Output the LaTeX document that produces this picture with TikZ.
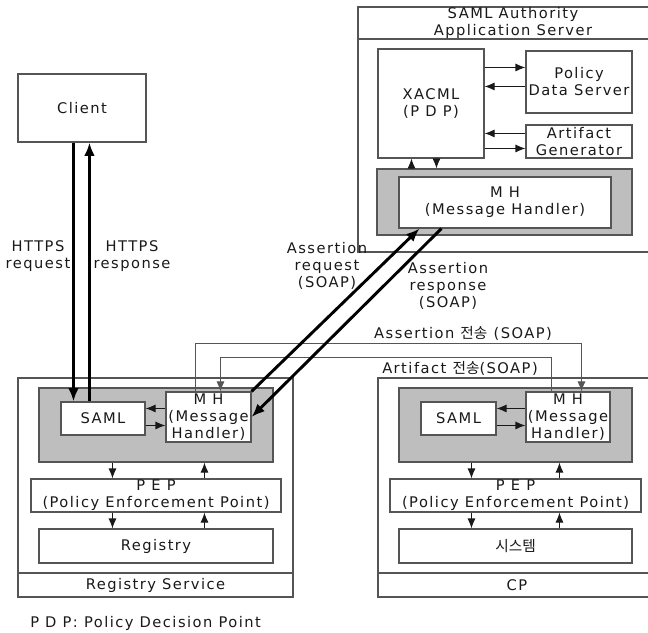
\documentclass[tikz,border=0pt]{standalone}
\usepackage{fontspec}
\setmainfont{DejaVu Sans}[LetterSpace=10]
\newfontfamily\kr{Noto Sans CJK KR}
\usetikzlibrary{fit,calc,arrows.meta}
\definecolor{edge}{RGB}{85,85,85}
\definecolor{shade}{RGB}{190,190,190}
\definecolor{ink}{RGB}{25,25,25}
\begin{document}
\begin{tikzpicture}[x=0.75pt,y=-0.75pt,
  every node/.style={font=\fontsize{11}{12.75}\selectfont, text=ink, inner sep=0pt, align=center},
  box/.style={draw=edge, line width=0.8pt, fill=white},
  graybox/.style={draw=edge, line width=0.8pt, fill=shade},
  frame/.style={draw=edge, line width=0.8pt},
  txt/.style={label={[align=center]center:{#1}}},
  smallarrow/.style={draw=ink, line width=0.8pt, -{Latex[length=7.5pt,width=6pt]}},
  bigarrow/.style={draw=black, line width=2.2pt, -{Latex[length=10pt,width=8pt]}},
  wire/.style={draw=edge, line width=0.7pt},
]
\useasboundingbox (0,0) rectangle (648,632);
\clip (0,0) rectangle (648,632);

% ---------- SAML Authority ----------
\node[frame, fit={(358,7)(668,252)}] (auth) {};
\node[frame, fit={(358,7)(668,39)}, txt={SAML Authority\\Application Server}] (authtitle) {};
\node[box, fit={(378,49)(484,158)}, txt={XACML\\(P D P)}] (xacml) {};
\node[box, fit={(526,51)(632,113)}, txt={Policy\\Data Server}] (pds) {};
\node[box, fit={(526,125)(632,158)}, txt={Artifact\\Generator}] (ag) {};
\node[graybox, fit={(377,169)(632,235)}] (smhbg) {};
\node[box, fit={(399,177)(611,228)}, txt={M H\\(Message Handler)}] (smh) {};

\draw[smallarrow] ($(xacml.north east)+(0,19)$) -- ($(pds.north west)+(0,17)$);
\draw[smallarrow] ($(pds.north west)+(0,36)$) -- ($(xacml.north east)+(0,38)$);
\draw[smallarrow] ($(ag.north west)+(0,9)$) -- ($(xacml.north east)+(0,85)$);
\draw[smallarrow] ($(xacml.north east)+(0,100)$) -- ($(ag.north west)+(0,24)$);
\draw[smallarrow] ($(smhbg.north west)+(35,0)$) -- ($(xacml.south west)+(34,0)$);
\draw[smallarrow] ($(xacml.south west)+(59,0)$) -- ($(smhbg.north west)+(60,0)$);

% ---------- Client ----------
\node[box, fit={(18,74)(146,142)}, txt={Client}] (client) {};

% ---------- Registry Service ----------
\node[frame, fit={(18,378)(293,597)}] (reg) {};
\node[frame, fit={(18,573)(293,597)}, txt={Registry Service}] (regtitle) {};
\node[graybox, fit={(39,388)(273,462)}] (rgray) {};
\node[box, fit={(61,402)(145,435)}, txt={SAML}] (rsaml) {};
\node[box, fit={(166,392)(251,442)}, txt={M H\\(Message\\Handler)}] (rmh) {};
\node[box, fit={(31,479)(281,512)}, txt={P E P\\(Policy Enforcement Point)}] (rpep) {};
\node[box, fit={(39,529)(273,563)}, txt={Registry}] (rreg) {};

\draw[smallarrow] ($(rmh.north west)+(0,17)$) -- ($(rsaml.north east)+(0,7)$);
\draw[smallarrow] ($(rsaml.north east)+(0,24)$) -- ($(rmh.north west)+(0,34)$);
\draw[smallarrow] ($(rgray.south west)+(74,0)$) -- ($(rpep.north west)+(82,0)$);
\draw[smallarrow] ($(rpep.north west)+(174,0)$) -- ($(rgray.south west)+(166,0)$);
\draw[smallarrow] ($(rpep.south west)+(82,0)$) -- ($(rreg.north west)+(74,0)$);
\draw[smallarrow] ($(rreg.north west)+(166,0)$) -- ($(rpep.south west)+(174,0)$);

% ---------- CP ----------
\node[frame, fit={(378,378)(656,597)}] (cp) {};
\node[frame, fit={(378,573)(656,597)}, txt={CP}] (cptitle) {};
\node[graybox, fit={(399,388)(632,462)}] (cgray) {};
\node[box, fit={(421,402)(496,435)}, txt={SAML}] (csaml) {};
\node[box, fit={(526,392)(610,442)}, txt={M H\\(Message\\Handler)}] (cmh) {};
\node[box, fit={(390,479)(641,512)}, txt={P E P\\(Policy Enforcement Point)}] (cpep) {};
\node[box, fit={(399,529)(632,563)}, txt={{\kr 시스템}}] (csys) {};

\draw[smallarrow] ($(cmh.north west)+(0,17)$) -- ($(csaml.north east)+(0,7)$);
\draw[smallarrow] ($(csaml.north east)+(0,24)$) -- ($(cmh.north west)+(0,34)$);
\draw[smallarrow] ($(cgray.south west)+(73,0)$) -- ($(cpep.north west)+(82,0)$);
\draw[smallarrow] ($(cpep.north west)+(170,0)$) -- ($(cgray.south west)+(161,0)$);
\draw[smallarrow] ($(cpep.south west)+(82,0)$) -- ($(csys.north west)+(73,0)$);
\draw[smallarrow] ($(csys.north west)+(161,0)$) -- ($(cpep.south west)+(170,0)$);

% ---------- MH to MH connectors ----------
\draw[wire, -{Latex[length=7.5pt,width=6pt]}] ($(rmh.north west)+(30,0)$) -- ++(0,-48) -| ($(cmh.north west)+(56,0)$);
\draw[wire, -{Latex[length=7.5pt,width=6pt]}] ($(cmh.north west)+(26,0)$) -- ++(0,-34) -| ($(rmh.north west)+(55,0)$);
\node (lasend) at (463,333) {Assertion {\kr 전송} (SOAP)};
\node (larsend) at (460,368) {Artifact {\kr 전송}(SOAP)};

% ---------- HTTPS ----------
\draw[bigarrow] ($(client.south west)+(56,0)$) -- ($(rsaml.north west)+(13,0)$);
\draw[bigarrow] ($(rsaml.north west)+(29,0)$) -- ($(client.south west)+(72,0)$);
\node (lhreq) at (38,256) {HTTPS\\request};
\node (lhres) at (132,256) {HTTPS\\response};

% ---------- Assertion request / response ----------
\draw[bigarrow] (rmh.north east) -- ($(smh.south west)+(21,0)$);
\draw[bigarrow] ($(smh.south west)+(43,0)$) -- (rmh.east);
\node (lareq) at (327,266) {Assertion\\request\\(SOAP)};
\node (lares) at (448,286) {Assertion\\response\\(SOAP)};

% ---------- footnote ----------
\node[anchor=west] (pdpnote) at (30,623) {P D P: Policy Decision Point};
\end{tikzpicture}
\end{document}
